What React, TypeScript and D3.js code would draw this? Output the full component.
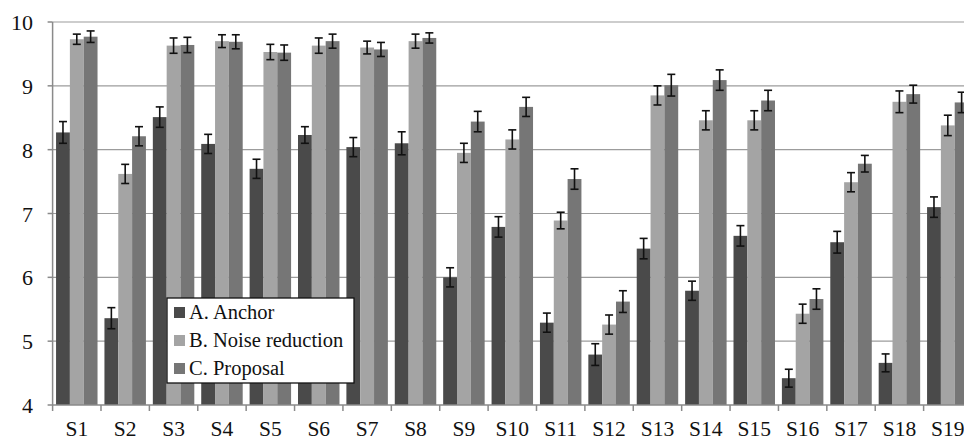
import * as d3 from "d3";
import { useEffect, useRef } from "react";

const categories = [
  "S1", "S2", "S3", "S4", "S5", "S6", "S7", "S8", "S9", "S10",
  "S11", "S12", "S13", "S14", "S15", "S16", "S17", "S18", "S19",
];

const seriesNames = ["A. Anchor", "B. Noise reduction", "C. Proposal"];

const anchor = [8.27, 5.36, 8.51, 8.09, 7.7, 8.23, 8.04, 8.1, 6.0, 6.79, 5.29, 4.79, 6.45, 5.79, 6.65, 4.42, 6.55, 4.66, 7.1];
const noiseReduction = [9.73, 7.62, 9.63, 9.7, 9.53, 9.63, 9.6, 9.7, 7.95, 8.16, 6.89, 5.26, 8.85, 8.46, 8.46, 5.43, 7.49, 8.75, 8.38];
const proposal = [9.77, 8.21, 9.64, 9.69, 9.52, 9.7, 9.57, 9.75, 8.44, 8.67, 7.54, 5.62, 9.01, 9.09, 8.77, 5.66, 7.78, 8.87, 8.74];

const anchorErr = [0.17, 0.165, 0.16, 0.15, 0.15, 0.13, 0.15, 0.18, 0.15, 0.16, 0.15, 0.17, 0.16, 0.15, 0.16, 0.14, 0.17, 0.14, 0.16];
const noiseErr = [0.08, 0.15, 0.12, 0.1, 0.12, 0.12, 0.1, 0.11, 0.15, 0.15, 0.13, 0.15, 0.15, 0.15, 0.15, 0.15, 0.15, 0.17, 0.16];
const proposalErr = [0.09, 0.15, 0.12, 0.11, 0.12, 0.11, 0.11, 0.08, 0.16, 0.15, 0.16, 0.17, 0.17, 0.16, 0.16, 0.16, 0.13, 0.14, 0.16];

const yTicks = [4, 5, 6, 7, 8, 9, 10];

const colors = ["#4a4a4a", "#a4a4a4", "#767676"];

const App = () => {
  const svgRef = useRef<SVGSVGElement>(null);

  useEffect(() => {
    const width = 964;
    const height = 441;
    const margin = { top: 22, right: -8, bottom: 36, left: 52.6 };
    const svg = d3.select(svgRef.current);
    svg.selectAll("*").remove();
    svg.attr("width", width).attr("height", height);

    // serif like the original figure
    const font = "'Liberation Serif', 'DejaVu Serif', serif";

    const x = d3
      .scaleBand()
      .domain(categories)
      .range([margin.left, width - margin.right])
      .paddingInner(0)
      .paddingOuter(0);

    const inner = d3
      .scaleBand()
      .domain(seriesNames)
      .range([0, x.bandwidth()])
      .paddingOuter(0.25)
      .paddingInner(0);

    const y = d3
      .scaleLinear()
      .domain([4, 10])
      .range([height - margin.bottom, margin.top]);

    // gridlines
    svg
      .selectAll(".grid")
      .data(yTicks.slice(1))
      .enter()
      .append("line")
      .attr("x1", margin.left)
      .attr("x2", width)
      .attr("y1", (d) => y(d))
      .attr("y2", (d) => y(d))
      .attr("stroke", "#9c9c9c")
      .attr("stroke-width", 1.2);

    const series = [
      { name: seriesNames[0], values: anchor, errs: anchorErr },
      { name: seriesNames[1], values: noiseReduction, errs: noiseErr },
      { name: seriesNames[2], values: proposal, errs: proposalErr },
    ];

    series.forEach((s, si) => {
      const rows = categories.map((c, i) => ({ c, v: s.values[i], e: s.errs[i] }));
      svg
        .append("g")
        .selectAll("rect")
        .data(rows)
        .enter()
        .append("rect")
        .attr("x", (d) => x(d.c)! + inner(s.name)!)
        .attr("y", (d) => y(d.v))
        .attr("width", inner.bandwidth())
        .attr("height", (d) => y(4) - y(d.v))
        .attr("fill", colors[si]);

      const eg = svg.append("g").attr("stroke", "#111").attr("stroke-width", 1.6);
      rows.forEach((d) => {
        const cx = x(d.c)! + inner(s.name)! + inner.bandwidth() / 2;
        eg.append("line")
          .attr("x1", cx).attr("x2", cx)
          .attr("y1", y(d.v + d.e)).attr("y2", y(d.v - d.e));
        [d.v + d.e, d.v - d.e].forEach((v) => {
          eg.append("line")
            .attr("x1", cx - 4).attr("x2", cx + 4)
            .attr("y1", y(v)).attr("y2", y(v));
        });
      });
    });

    // axes
    const axisColor = "#8a8a8a";
    svg
      .append("line")
      .attr("x1", margin.left).attr("x2", margin.left)
      .attr("y1", y(10)).attr("y2", y(4))
      .attr("stroke", axisColor).attr("stroke-width", 1.5);
    svg
      .append("line")
      .attr("x1", margin.left).attr("x2", width)
      .attr("y1", y(4)).attr("y2", y(4))
      .attr("stroke", axisColor).attr("stroke-width", 1.5);

    svg
      .selectAll(".ytick")
      .data(yTicks)
      .enter()
      .append("line")
      .attr("x1", margin.left - 5).attr("x2", margin.left)
      .attr("y1", (d) => y(d)).attr("y2", (d) => y(d))
      .attr("stroke", axisColor).attr("stroke-width", 1.5);

    svg
      .selectAll(".ylabel")
      .data(yTicks)
      .enter()
      .append("text")
      .attr("x", 33)
      .attr("y", (d) => y(d) + 8)
      .attr("text-anchor", "end")
      .style("font-family", font)
      .style("font-size", "22px")
      .attr("fill", "#111")
      .text((d) => d);

    svg
      .selectAll(".xtick")
      .data(categories)
      .enter()
      .append("line")
      .attr("x1", (d) => x(d)!).attr("x2", (d) => x(d)!)
      .attr("y1", y(4)).attr("y2", y(4) + 6)
      .attr("stroke", axisColor).attr("stroke-width", 1.5);

    svg
      .selectAll(".xlabel")
      .data(categories)
      .enter()
      .append("text")
      .attr("x", (d) => x(d)! + x.bandwidth() / 2)
      .attr("y", 436)
      .attr("text-anchor", "middle")
      .style("font-family", font)
      .style("font-size", "21.5px")
      .attr("fill", "#111")
      .text((d) => d);

    // legend
    const lg = svg.append("g").attr("transform", "translate(167, 298)");
    lg.append("rect")
      .attr("width", 187)
      .attr("height", 85)
      .attr("fill", "#fff")
      .attr("stroke", "#111")
      .attr("stroke-width", 1.3);
    seriesNames.forEach((n, i) => {
      const cy = 14 + i * 28;
      lg.append("rect")
        .attr("x", 7).attr("y", cy - 5)
        .attr("width", 11).attr("height", 11)
        .attr("fill", colors[i]);
      lg.append("text")
        .attr("x", 22).attr("y", cy + 7)
        .style("font-family", font)
        .style("font-size", "20.5px")
        .attr("fill", "#111")
        .text(n);
    });
  }, []);

  return (
    <svg
      ref={svgRef}
      style={{ position: "absolute", left: 0, top: 0, background: "#fff" }}
    ></svg>
  );
};

export default App;
